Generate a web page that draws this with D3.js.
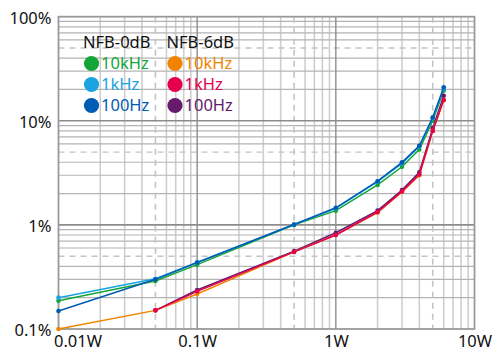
<!DOCTYPE html>
<html><head><meta charset="utf-8">
<script src="https://cdn.jsdelivr.net/npm/d3@7/dist/d3.min.js"></script>
<style>body{margin:0;background:#fff}svg{display:block}text{font-family:"Noto Sans",sans-serif}</style>
</head><body><svg id="c" width="500" height="361"></svg>
<script>
const powers = [0.01, 0.05, 0.1, 0.5, 1, 2, 3, 4, 5, 6];
const nfb0_10k  = [0.187, 0.289, 0.415, 1.0, 1.37, 2.42, 3.62, 5.3, 10.0, 19.5];
const nfb0_1k   = [0.2, 0.304, 0.437, 1.01, 1.44, 2.6, 3.9, 5.65, 10.6, 20.2];
const nfb0_100  = [0.149, 0.30, 0.435, 1.01, 1.46, 2.63, 3.99, 5.75, 10.8, 21];
const nfb6_10k  = [0.1, 0.151, 0.217, 0.55, 0.80, 1.31, 2.07, 3.0, 8.0, 15.8];
const nfb6_1k   = [null, 0.151, 0.23, 0.55, 0.80, 1.33, 2.1, 3.05, 8.0, 15.8];
const nfb6_100  = [null, 0.151, 0.237, 0.56, 0.84, 1.37, 2.16, 3.2, 8.5, 17.4];
const xTickVals = [0.01, 0.1, 1, 10];
const xTickLabels = ["0.01W", "0.1W", "1W", "10W"];
const yTickVals = [100, 10, 1, 0.1];
const yTickLabels = ["100%", "10%", "1%", "0.1%"];
const legendGroups = ["NFB-0dB", "NFB-6dB"];
const legendItems = ["10kHz", "1kHz", "100Hz"];

const series = [
  {g:0, name:"10kHz", color:"#13a538", v:nfb0_10k},
  {g:0, name:"1kHz", color:"#1aa3e0", v:nfb0_1k},
  {g:0, name:"100Hz", color:"#005bb5", v:nfb0_100},
  {g:1, name:"100Hz", color:"#651a6e", v:nfb6_100},
  {g:1, name:"10kHz", color:"#f08300", v:nfb6_10k},
  {g:1, name:"1kHz", color:"#e5004f", v:nfb6_1k}
];

const L=58.5, R=474.5, T=16.7, B=329;
const x = d3.scaleLog().domain([0.01,10]).range([L,R]);
const y = d3.scaleLog().domain([0.1,100]).range([B,T]);
const svg = d3.select("#c");

// grid
const minor = [], dashed = [];
[0.01,0.1,1].forEach(d=>{ for(let k=2;k<=9;k++){ (k===5?dashed:minor).push(d*k);} });
const yminor = [], ydashed = [];
[0.1,1,10].forEach(d=>{ for(let k=2;k<=9;k++){ (k===5?ydashed:yminor).push(d*k);} });
const gg = svg.append("g");
gg.selectAll(".vx").data(minor).join("line").attr("x1",d=>x(d)).attr("x2",d=>x(d)).attr("y1",T).attr("y2",B)
  .attr("stroke","#cfcfcf").attr("stroke-width",1.6);
gg.selectAll(".hy").data(yminor).join("line").attr("y1",d=>y(d)).attr("y2",d=>y(d)).attr("x1",L).attr("x2",R)
  .attr("stroke","#b4b4b4").attr("stroke-width",1.2);
gg.selectAll(".vd").data(dashed).join("line").attr("x1",d=>x(d)).attr("x2",d=>x(d)).attr("y1",T).attr("y2",B)
  .attr("stroke","#c4c4c4").attr("stroke-width",1.6).attr("stroke-dasharray","6,5");
gg.selectAll(".hd").data(ydashed).join("line").attr("y1",d=>y(d)).attr("y2",d=>y(d)).attr("x1",L).attr("x2",R)
  .attr("stroke","#c4c4c4").attr("stroke-width",1.4).attr("stroke-dasharray","6,5");
gg.selectAll(".vm").data([0.1,1]).join("line").attr("x1",d=>x(d)).attr("x2",d=>x(d)).attr("y1",T).attr("y2",B)
  .attr("stroke","#8c8c8c").attr("stroke-width",1.4);
gg.selectAll(".hm").data([1,10]).join("line").attr("y1",d=>y(d)).attr("y2",d=>y(d)).attr("x1",L).attr("x2",R)
  .attr("stroke","#8c8c8c").attr("stroke-width",1.6);
gg.append("rect").attr("x",L).attr("y",T).attr("width",R-L).attr("height",B-T)
  .attr("fill","none").attr("stroke","#999").attr("stroke-width",1.8);

// axis labels
const xAxis = d3.axisBottom(x).tickValues(xTickVals).tickFormat((d,i)=>xTickLabels[i]).tickSize(0).tickPadding(6);
const ax = svg.append("g").attr("transform",`translate(0,${B})`).call(xAxis);
ax.select(".domain").remove();
ax.selectAll("text").attr("font-size","16.5px").attr("fill","#111").attr("font-family","Noto Sans")
  .attr("text-anchor",(d,i)=>i===0?"start":"middle").attr("dx",(d,i)=>i===0?-5:0);
const yAxis = d3.axisLeft(y).tickValues(yTickVals).tickFormat((d,i)=>yTickLabels[i]).tickSize(0).tickPadding(7);
const ay = svg.append("g").attr("transform",`translate(${L},0)`).call(yAxis);
ay.select(".domain").remove();
ay.selectAll("text").attr("font-size","16.5px").attr("fill","#111").attr("font-family","Noto Sans").attr("dy","0.4em");

// lines
const line = d3.line().defined(d=>d[1]!=null).x(d=>x(d[0])).y(d=>y(d[1]));
series.forEach(s=>{
  const pts = powers.map((p,i)=>[p,s.v[i]]);
  svg.append("path").datum(pts).attr("d",line).attr("fill","none").attr("stroke",s.color).attr("stroke-width",1.5);
  svg.append("g").selectAll("circle").data(pts.filter(d=>d[1]!=null)).join("circle")
    .attr("cx",d=>x(d[0])).attr("cy",d=>y(d[1])).attr("r",2.3).attr("fill",s.color);
});

// legend
const lg = svg.append("g");
const colX = [83, 166.5];
legendGroups.forEach((g,gi)=>{
  lg.append("text").attr("x",colX[gi]).attr("y",48).attr("font-size","16.5px").attr("fill","#111").text(g);
  const items = series.filter(s=>s.g===gi);
  legendItems.forEach((nm,ri)=>{
    const s = items.find(t=>t.name===nm);
    const cy = 63.5 + ri*21;
    lg.append("circle").attr("cx",colX[gi]+8.5).attr("cy",cy).attr("r",7.6).attr("fill",s.color);
    lg.append("text").attr("x",colX[gi]+18).attr("y",cy+5.5).attr("font-size","16.5px").attr("fill",s.color).text(nm);
  });
});
</script></body></html>
